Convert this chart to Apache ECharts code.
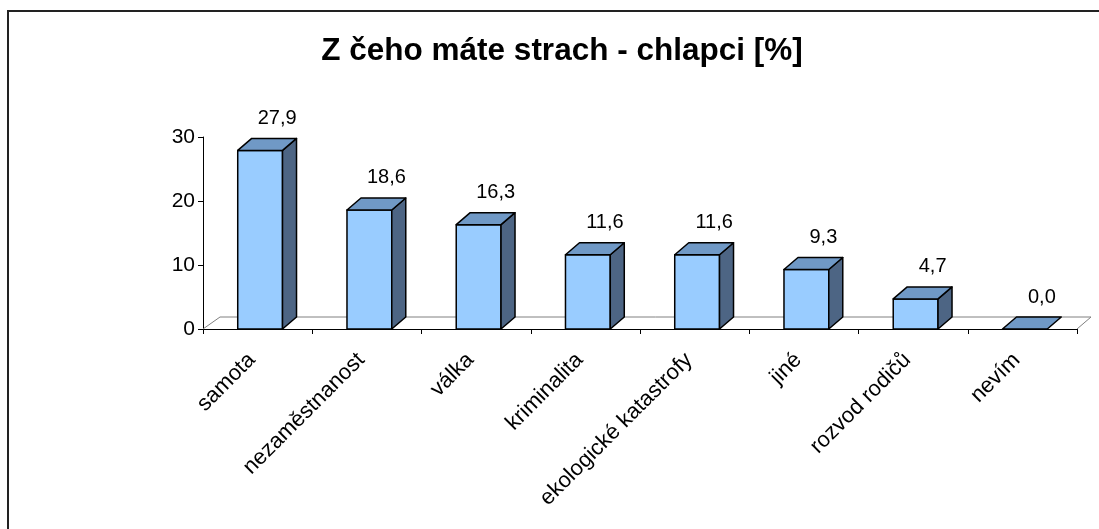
<!DOCTYPE html>
<html lang="cs">
<head>
    <meta charset="UTF-8">
    <title>Z čeho máte strach - chlapci</title>
    <style>
        body {
            margin: 0;
            background: #fff;
        }
        #main {
            width: 1099px;
            height: 529px;
        }
    </style>
    <script src="https://cdn.jsdelivr.net/npm/echarts@6/dist/echarts.min.js"></script>
</head>
<body>
<div id="main"></div>
<script>
    // data
    var categories = ['samota', 'nezaměstnanost', 'válka', 'kriminalita', 'ekologické katastrofy', 'jiné', 'rozvod rodičů', 'nevím'];
    var values = [27.9, 18.6, 16.3, 11.6, 11.6, 9.3, 4.7, 0.0];
    var yTicks = [0, 10, 20, 30];

    var FONT = '"Liberation Sans", Arial, sans-serif';
    var DX = 14, DY = -12;     // hloubka sloupce
    var FLOOR_DX = 17;         // hloubka podlahy

    function fmt(v) {
        return v.toFixed(1).replace('.', ',');
    }

    // 3D sloupec: predni stena, vrch, bok + popisek
    function renderBar(params, api) {
        var idx = api.value(0);
        var val = api.value(1);
        var base = api.coord([idx, 0]);
        var top = api.coord([idx, val]);
        var bw = api.size([1, 0])[0];
        var fw = bw * 0.41;
        var cx = base[0] + 2.5;
        var L = cx - fw / 2, R = cx + fw / 2;
        var yb = base[1], yt = top[1];
        var edge = {stroke: '#000', lineWidth: 1.5, lineJoin: 'round'};
        var children = [];
        if (yb - yt > 0.5) {
            children.push({
                type: 'polygon',
                shape: {points: [[L, yt], [R, yt], [R, yb], [L, yb]]},
                style: Object.assign({fill: '#99ccff'}, edge)
            });
            children.push({
                type: 'polygon',
                shape: {points: [[R, yt], [R + DX, yt + DY], [R + DX, yb + DY], [R, yb]]},
                style: Object.assign({fill: '#4d6584'}, edge)
            });
        }
        children.push({
            type: 'polygon',
            shape: {points: [[L, yt], [R, yt], [R + DX, yt + DY], [L + DX, yt + DY]]},
            style: Object.assign({fill: '#7099c6'}, edge)
        });
        children.push({
            type: 'text',
            style: {
                text: fmt(val),
                x: cx + 17,
                y: yt - 32,
                align: 'center',
                verticalAlign: 'middle',
                fontSize: 20,
                fontFamily: FONT,
                fill: '#000'
            }
        });
        return {type: 'group', children: children};
    }

    // podlaha za osou x
    function renderFloor(params, api) {
        var c0 = api.coord([0, 0]);
        var bw = api.size([1, 0])[0];
        var left = c0[0] - bw / 2;
        var right = left + bw * categories.length;
        var y = c0[1];
        return {
            type: 'polyline',
            shape: {points: [[left, y], [left + FLOOR_DX, y + DY], [right + DX, y + DY], [right, y]]},
            style: {stroke: '#808080', lineWidth: 1, fill: 'none'}
        };
    }

    let chart = echarts.init(document.getElementById('main'));
    let option = {
        backgroundColor: '#fff',
        animation: false,
        title: {
            text: 'Z čeho máte strach - chlapci [%]',
            left: 562,
            textAlign: 'center',
            top: 35,
            padding: 0,
            textStyle: {
                fontFamily: FONT,
                fontSize: 31.5,
                fontWeight: 'bold',
                color: '#000'
            }
        },
        graphic: [{
            type: 'rect',
            shape: {x: 8, y: 11, width: 1200, height: 600},
            style: {fill: 'none', stroke: '#222', lineWidth: 2},
            silent: true
        }],
        grid: {
            left: 203,
            right: 22,
            top: 137,
            bottom: 200,
            containLabel: false,
            outerBoundsMode: 'none'
        },
        xAxis: {
            type: 'category',
            data: categories,
            boundaryGap: true,
            axisLine: {lineStyle: {color: '#000', width: 1}},
            axisTick: {show: true, length: 5, lineStyle: {color: '#000'}},
            axisLabel: {
                rotate: 45,
                interval: 0,
                margin: 22,
                padding: [0, 8, 0, 0],
                fontSize: 22,
                fontFamily: FONT,
                color: '#000'
            },
            splitLine: {show: false}
        },
        yAxis: {
            type: 'value',
            min: yTicks[0],
            max: yTicks[yTicks.length - 1],
            interval: 10,
            axisLine: {show: true, lineStyle: {color: '#000', width: 1}},
            axisTick: {show: true, length: 5, lineStyle: {color: '#000'}},
            axisLabel: {
                margin: 8,
                fontSize: 21,
                fontFamily: FONT,
                color: '#000'
            },
            splitLine: {show: false}
        },
        series: [
            {
                type: 'custom',
                name: 'podlaha',
                z: 1,
                renderItem: renderFloor,
                data: [[0, 0]],
                silent: true
            },
            {
                type: 'custom',
                name: 'chlapci',
                z: 3,
                renderItem: renderBar,
                encode: {x: 0, y: 1},
                data: values.map(function (v, i) { return [i, v]; })
            }
        ]
    };
    chart.setOption(option);
</script>
</body>
</html>
